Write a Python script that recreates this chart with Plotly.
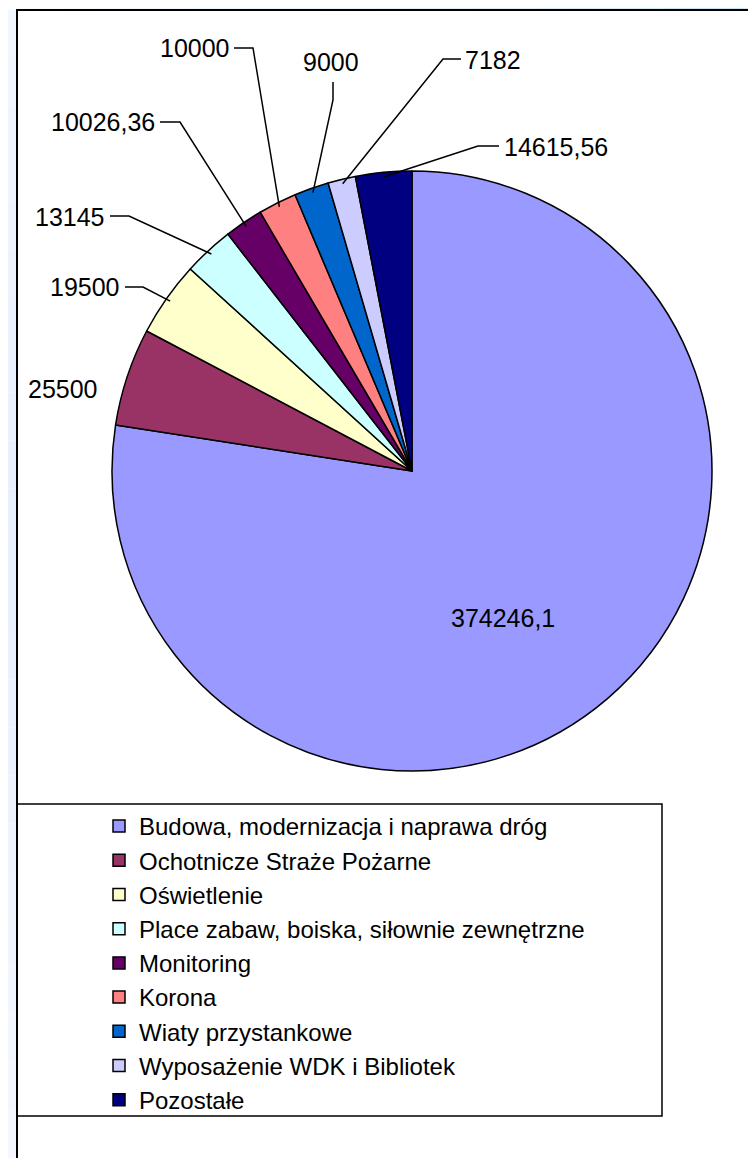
import math
import plotly.graph_objects as go

# data
categories = [
    "Budowa, modernizacja i naprawa dróg",
    "Ochotnicze Straże Pożarne",
    "Oświetlenie",
    "Place zabaw, boiska, siłownie zewnętrzne",
    "Monitoring",
    "Korona",
    "Wiaty przystankowe",
    "Wyposażenie WDK i Bibliotek",
    "Pozostałe",
]
values = [374246.1, 25500, 19500, 13145, 10026.36, 10000, 9000, 7182, 14615.56]
colors = ['#9999FF', '#993366', '#FFFFCC', '#CCFFFF', '#660066',
          '#FF8080', '#0066CC', '#CCCCFF', '#000080']

# the page body adds an 8px margin, so the figure is a bit smaller than the window
PAGE_W, PAGE_H, OFF = 756, 1158, 8
W, H = PAGE_W - OFF, PAGE_H - OFF
FONT = "Liberation Sans, Arial, sans-serif"

# pie placement (page pixels)
cx, cy, R = 412, 471, 300


def px(x):
    return (x - OFF) / W


def py(y):
    return 1 - (y - OFF) / H


def fmt(v):
    return f"{v:.10g}".replace('.', ',')


# label placement per slice: text anchor, text position, leader line elbow points
label_layout = [
    dict(xanchor='center', x=503, y=618, line=None),
    dict(xanchor='center', x=63, y=389, line=None),
    dict(xanchor='right', x=122, y=287, line=[(125, 287), (143, 287)]),
    dict(xanchor='right', x=107, y=217, line=[(110, 216), (129, 216)]),
    dict(xanchor='right', x=157, y=122, line=[(160, 122), (180, 122)]),
    dict(xanchor='right', x=232, y=48, line=[(234, 48), (253, 48)]),
    dict(xanchor='center', x=331, y=62, line=[(333, 82), (333, 100)]),
    dict(xanchor='left', x=463, y=60, line=[(461, 59), (443, 59)]),
    dict(xanchor='left', x=502, y=147, line=[(499, 146), (478, 146)]),
]

fig = go.Figure()
fig.add_trace(go.Pie(
    labels=categories,
    values=values,
    sort=False,
    direction='clockwise',
    rotation=0,
    marker=dict(colors=colors, line=dict(color='black', width=1.5)),
    textinfo='none',
    hoverinfo='label+value',
    domain=dict(x=[px(cx - R), px(cx + R)], y=[py(cy + R), py(cy - R)]),
))

shapes = []

# faint blue tint around the edges
steps = 24
for i in range(steps):
    t = i / (steps - 1)
    r = int(250 - 50 * t)
    g = int(252 - 24 * t)
    b = 254 - int(6 * t)
    shapes.append(dict(type='rect', xref='paper', yref='paper', layer='below',
                       x0=px(PAGE_W * i / steps), x1=px(PAGE_W * (i + 1) / steps),
                       y0=py(10), y1=py(0), fillcolor=f'rgb({r},{g},{b})', line=dict(width=0)))
for i in range(steps):
    t = max(0, 1 - abs(i / (steps - 1) - 0.45) * 1.6)
    r = int(246 - 14 * t)
    g = int(249 - 10 * t)
    shapes.append(dict(type='rect', xref='paper', yref='paper', layer='below',
                       x0=px(0), x1=px(17), y0=py(10 + (PAGE_H - 10) * (i + 1) / steps),
                       y1=py(10 + (PAGE_H - 10) * i / steps),
                       fillcolor=f'rgb({r},{g},253)', line=dict(width=0)))

# chart frame and legend frame
shapes.append(dict(type='rect', xref='paper', yref='paper',
                   x0=px(17), x1=px(800), y0=py(1200), y1=py(10),
                   line=dict(color='black', width=2)))
shapes.append(dict(type='rect', xref='paper', yref='paper',
                   x0=px(17), x1=px(662), y0=py(1116), y1=py(804),
                   fillcolor='white', line=dict(color='black', width=1.5), layer='below'))

# value labels with leader lines to the slice mid-points
annotations = []
total = sum(values)
cum = 0
for v, lay in zip(values, label_layout):
    mid = (cum + v / 2) / total * 2 * math.pi
    cum += v
    annotations.append(dict(
        x=px(lay['x']), y=py(lay['y']), xref='paper', yref='paper',
        text=fmt(v), showarrow=False, xanchor=lay['xanchor'], yanchor='middle',
        font=dict(size=25, color='black', family=FONT),
    ))
    if lay['line']:
        ax = cx + 0.985 * R * math.sin(mid)
        ay = cy - 0.985 * R * math.cos(mid)
        pts = lay['line'] + [(ax, ay)]
        path = 'M ' + ' L '.join(f'{px(x):.5f},{py(y):.5f}' for x, y in pts)
        shapes.append(dict(type='path', xref='paper', yref='paper', path=path,
                           line=dict(color='black', width=1.5)))

fig.update_layout(
    width=W,
    height=H,
    margin=dict(l=0, r=0, t=0, b=0),
    paper_bgcolor='white',
    plot_bgcolor='white',
    font=dict(family=FONT, color='black', size=24),
    shapes=shapes,
    annotations=annotations,
    showlegend=True,
    legend=dict(
        x=px(99), y=py(804), xanchor='left', yanchor='top',
        bgcolor='rgba(0,0,0,0)', borderwidth=0,
        font=dict(size=24, family=FONT, color='black'),
        tracegroupgap=0,
        itemwidth=30,
    ),
)

fig.write_html("out.html")
